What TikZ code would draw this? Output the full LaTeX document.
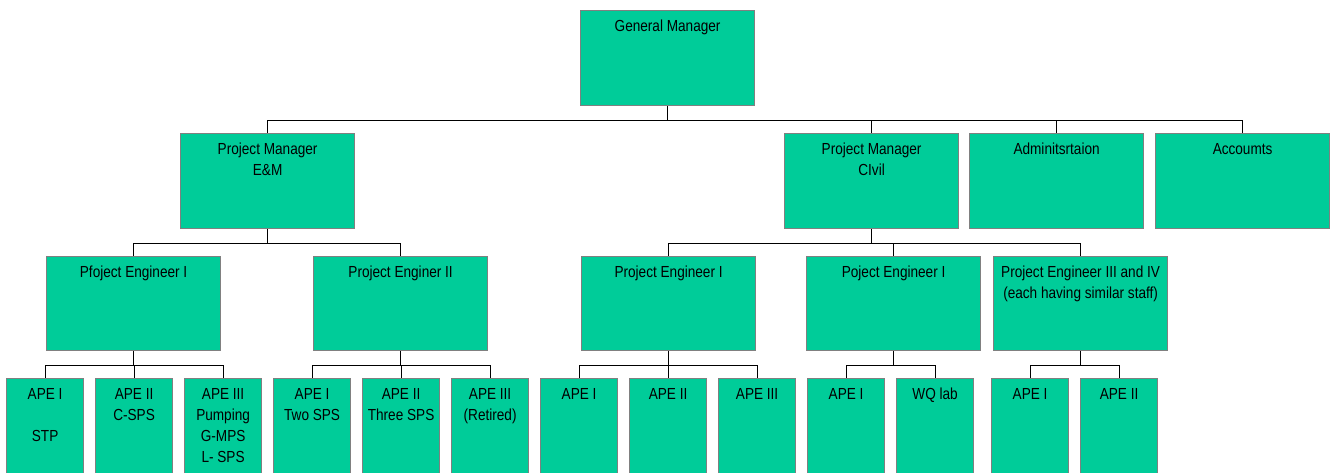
\documentclass[tikz,border=0pt]{standalone}
\usepackage{fontspec}
\setmainfont{Liberation Sans}[FakeStretch=0.85]
\definecolor{boxfill}{RGB}{0,204,153}
\definecolor{boxgray}{RGB}{128,128,128}
% centred lines whose reference point is the first baseline
\newcommand\boxlines[1]{\vtop{\baselineskip=21pt\lineskiplimit=-30pt
  \halign{\hfil##\hfil\cr#1\crcr}}}
\begin{document}
\begin{tikzpicture}[x=1pt,y=-1pt,
  orgbox/.style={draw=boxgray, line width=1.2pt, fill=boxfill, inner sep=0pt, anchor=north west},
  boxtext/.style={anchor=base, inner sep=0pt, font=\fontsize{16}{21}\selectfont},
  link/.style={draw=black, line width=0.9pt}]
\useasboundingbox (0,0) rectangle (1332,472);

% #1 name, #2 left, #3 top, #4 width, #5 height, #6 lines separated by \cr
\newcommand\orgnode[6]{%
  \node[orgbox, minimum width=#4pt, minimum height=#5pt] (#1) at (#2,#3) {};
  \node[boxtext] (#1-t) at ([yshift=-21.5pt]#1.north) {\boxlines{#6}};}

% top level
\orgnode{gm}{580}{10}{174}{95}{General Manager}

% managers and offices
\orgnode{pme}{180}{133}{174}{95}{Project Manager\cr E\&M}
\orgnode{pmc}{784}{133}{174}{95}{Project Manager\cr CIvil}
\orgnode{adm}{969}{133}{174}{95}{Adminitsrtaion}
\orgnode{acc}{1155}{133}{174}{95}{Accoumts}

% project engineers
\orgnode{pea}{46}{256}{174}{94}{Pfoject Engineer I}
\orgnode{peb}{313}{256}{174}{94}{Project Enginer II}
\orgnode{pec}{581}{256}{174}{94}{Project Engineer I}
\orgnode{ped}{806}{256}{174}{94}{Poject Engineer I}
\orgnode{pee}{993}{256}{174}{94}{Project Engineer III and IV\cr (each having similar staff)}

% assistant project engineers (run past the lower edge)
\orgnode{a1}{6}{378}{77}{100}{APE I\cr\cr STP}
\orgnode{a2}{95}{378}{77}{100}{APE II\cr C-SPS}
\orgnode{a3}{184}{378}{77}{100}{APE III\cr Pumping\cr G-MPS\cr L- SPS}
\orgnode{b1}{273}{378}{77}{100}{APE I\cr Two SPS}
\orgnode{b2}{362}{378}{77}{100}{APE II\cr Three SPS}
\orgnode{b3}{451}{378}{77}{100}{APE III\cr (Retired)}
\orgnode{c1}{540}{378}{77}{100}{APE I}
\orgnode{c2}{629}{378}{77}{100}{APE II}
\orgnode{c3}{718}{378}{77}{100}{APE III}
\orgnode{d1}{807}{378}{77}{100}{APE I}
\orgnode{d2}{896}{378}{77}{100}{WQ lab}
\orgnode{e1}{991}{378}{77}{100}{APE I}
\orgnode{e2}{1080}{378}{77}{100}{APE II}

% reporting lines
\foreach \c in {pme,pmc,adm,acc} \draw[link] (gm.south) -- ++(0,14) -| (\c.north);
\foreach \c in {pea,peb} \draw[link] (pme.south) -- ++(0,14) -| (\c.north);
\foreach \c in {pec,ped,pee} \draw[link] (pmc.south) -- ++(0,14) -| (\c.north);
\foreach \c in {a1,a2,a3} \draw[link] (pea.south) -- ++(0,14) -| (\c.north);
\foreach \c in {b1,b2,b3} \draw[link] (peb.south) -- ++(0,14) -| (\c.north);
\foreach \c in {c1,c2,c3} \draw[link] (pec.south) -- ++(0,14) -| (\c.north);
\foreach \c in {d1,d2} \draw[link] (ped.south) -- ++(0,14) -| (\c.north);
\foreach \c in {e1,e2} \draw[link] (pee.south) -- ++(0,14) -| (\c.north);
\end{tikzpicture}
\end{document}
